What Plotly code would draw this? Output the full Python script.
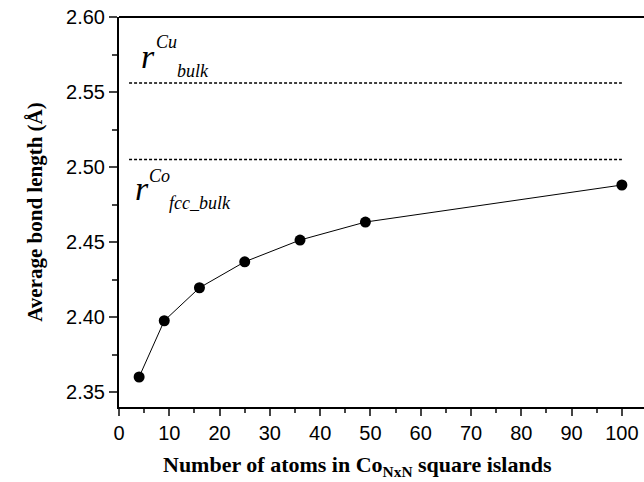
import plotly.graph_objects as go

n_atoms = [4, 9, 16, 25, 36, 49, 100]
bond_len = [2.360, 2.3975, 2.4195, 2.4368, 2.4513, 2.4633, 2.488]
r_cu_bulk = 2.556
r_co_fcc = 2.505
ref_x = [2, 100]
x_ticks = [0, 10, 20, 30, 40, 50, 60, 70, 80, 90, 100]
y_ticks = [2.35, 2.40, 2.45, 2.50, 2.55, 2.60]

fig = go.Figure()
fig.add_trace(go.Scatter(x=ref_x, y=[r_cu_bulk]*2, mode="lines",
                         line=dict(color="black", width=1.3, dash="3px,2px"), showlegend=False))
fig.add_trace(go.Scatter(x=ref_x, y=[r_co_fcc]*2, mode="lines",
                         line=dict(color="black", width=1.6, dash="3px,2px"), showlegend=False))
fig.add_trace(go.Scatter(x=n_atoms, y=bond_len, mode="lines+markers",
                         line=dict(color="black", width=1),
                         marker=dict(color="black", size=11), showlegend=False))

tickfont = dict(family="Liberation Sans, Arial", size=20, color="black")
serif = "Liberation Serif, Times New Roman"
fig.update_layout(
    width=644, height=482,
    margin=dict(l=119, r=0, t=17, b=75),
    plot_bgcolor="white", paper_bgcolor="white",
    xaxis=dict(range=[0, 104.4], tickvals=x_ticks, ticks="outside", ticklen=7, tickwidth=1.5,
               minor=dict(ticks="outside", ticklen=4, tickwidth=1.5, dtick=5, tick0=0),
               showline=True, linecolor="black", linewidth=2, mirror=False,
               showgrid=False, zeroline=False, tickfont=tickfont),
    yaxis=dict(range=[2.34, 2.60], tickvals=y_ticks, tickformat=".2f", ticks="outside",
               ticklen=8, tickwidth=1.5,
               minor=dict(ticks="outside", ticklen=5, tickwidth=1.5, dtick=0.025, tick0=2.35),
               showline=True, linecolor="black", linewidth=2,
               showgrid=False, zeroline=False, tickfont=tickfont,
               title=dict(text="<b>Average bond length (Å)</b>", standoff=18,
                          font=dict(family=serif, size=21, color="black"))),
)
# top border
fig.add_shape(type="line", xref="paper", yref="paper", x0=0, x1=1, y0=1, y1=1,
              line=dict(color="black", width=2))

fig.add_annotation(xref="paper", yref="paper", xanchor="center", yanchor="middle",
                   x=(357-119)/(644-119), y=-(466-407)/(407-17),
                   text="<b>Number of atoms in Co<sub>NxN</sub> square islands</b>", showarrow=False,
                   font=dict(family=serif, size=22, color="black"))

def ann(x, y, text, size):
    fig.add_annotation(xref="x", yref="y", x=x, y=y, text=text, showarrow=False,
                       xanchor="left", yanchor="middle",
                       font=dict(family=serif, size=size, color="black"))

def px2x(px):
    return (px-119)/5.027
def py2y(py):
    return 2.60-(py-17)/1500

ann(px2x(139), py2y(56), "<i>r</i>", 34)
ann(px2x(154), py2y(42), "<i>Cu</i>", 18)
ann(px2x(175), py2y(71), "<i>bulk</i>", 18)
ann(px2x(133), py2y(188), "<i>r</i>", 34)
ann(px2x(147), py2y(176), "<i>Co</i>", 18)
ann(px2x(167), py2y(203), "<i>fcc_bulk</i>", 18)

fig.write_html("out.html")
